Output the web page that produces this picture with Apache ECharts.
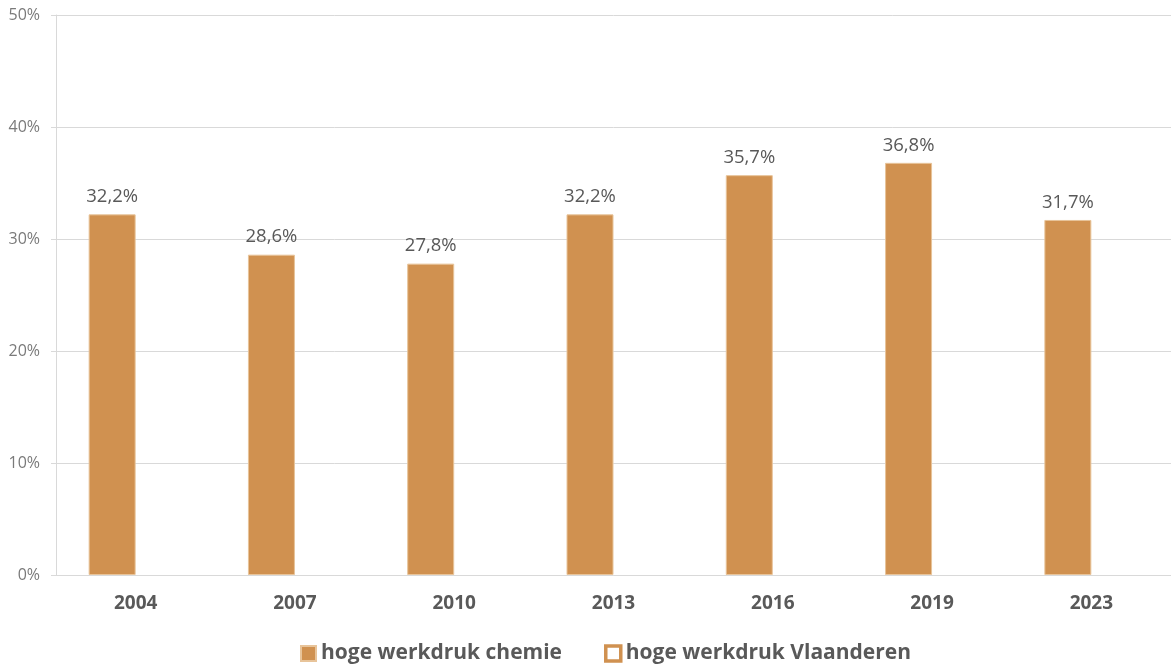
<!DOCTYPE html>
<html>
<head>
<meta charset="utf-8">
<script src="https://cdn.jsdelivr.net/npm/echarts@6/dist/echarts.min.js"></script>
<style>
  html, body { margin: 0; padding: 0; background: #fff; }
  #chart { width: 1171px; height: 668px; }
</style>
</head>
<body>
<div id="chart"></div>
<script>
const years = ['2004', '2007', '2010', '2013', '2016', '2019', '2023'];
const chemie = [32.2, 28.6, 27.8, 32.2, 35.7, 36.8, 31.7];
// Vlaanderen staat in de legende maar heeft geen zichtbare staven
const vlaanderen = [null, null, null, null, null, null, null];

const BAR_COLOR = '#D09150';
const TEXT_COLOR = '#595959';

const chart = echarts.init(document.getElementById('chart'));

chart.setOption({
  animation: false,
  textStyle: { fontFamily: '"Open Sans", "Noto Sans", sans-serif' },
  grid: { left: 56, right: -5, top: 15, bottom: 93 },
  legend: {
    bottom: 4,
    left: 300,
    padding: 0,
    itemWidth: 15,
    itemHeight: 15,
    itemGap: 42,
    textStyle: { fontSize: 21, fontWeight: 'bold', color: TEXT_COLOR },
    data: [
      { name: 'hoge werkdruk chemie', icon: 'rect' },
      { name: 'hoge werkdruk Vlaanderen', icon: 'rect',
        itemStyle: { color: '#fff', borderColor: BAR_COLOR, borderWidth: 3.5 } },
    ],
  },
  xAxis: {
    type: 'category',
    data: years,
    axisLine: { lineStyle: { color: '#d9d9d9' } },
    axisTick: { show: false },
    axisLabel: { fontSize: 19, fontWeight: 'bold', color: TEXT_COLOR, margin: 19 },
  },
  yAxis: {
    type: 'value',
    min: 0,
    max: 50,
    interval: 10,
    axisLine: { show: true, lineStyle: { color: '#d9d9d9' } },
    axisTick: { show: true, length: 5, lineStyle: { color: '#d9d9d9' } },
    axisLabel: { fontSize: 16, color: '#7a7a7a', margin: 16, formatter: v => v + '%' },
    splitLine: { lineStyle: { color: '#d9d9d9' } },
  },
  series: [
    {
      name: 'hoge werkdruk chemie',
      type: 'bar',
      data: chemie,
      barWidth: 47,
      barGap: '0%',
      itemStyle: { color: BAR_COLOR, borderColor: '#E8C49A', borderWidth: 1 },
      label: {
        show: true,
        position: 'top',
        distance: 8,
        fontSize: 18.5,
        color: TEXT_COLOR,
        formatter: p => p.value.toFixed(1).replace('.', ',') + '%',
      },
    },
    {
      name: 'hoge werkdruk Vlaanderen',
      type: 'bar',
      data: vlaanderen,
      barWidth: 47,
      itemStyle: { color: '#fff', borderColor: BAR_COLOR, borderWidth: 3.5 },
    },
  ],
});
</script>
</body>
</html>
